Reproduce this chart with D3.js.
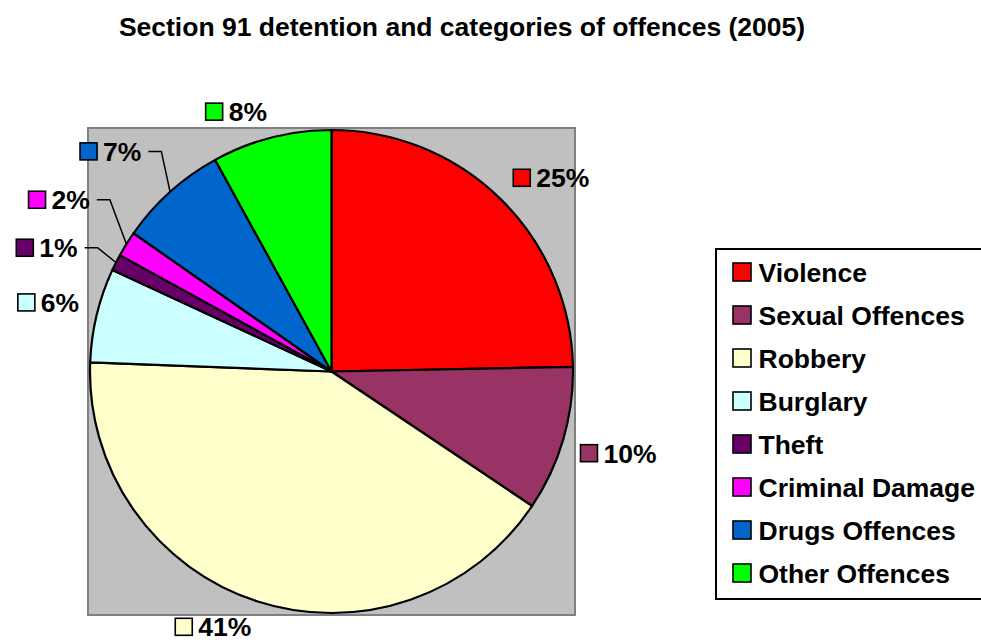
<!DOCTYPE html>
<html>
<head>
<meta charset="utf-8">
<script src="https://cdn.jsdelivr.net/npm/d3@7"></script>
<style>
  body { margin: 0; background: #fff; }
  text { font-family: "Liberation Sans", Arial, sans-serif; font-weight: bold; fill: #000; }
</style>
</head>
<body>
<div id="chart"></div>
<script>
// categories and their share of section 91 detentions (%)
var categories = ["Violence", "Sexual Offences", "Robbery", "Burglary", "Theft",
                  "Criminal Damage", "Drugs Offences", "Other Offences"];
var shares = [24.7, 9.7, 41.2, 6.3, 1.1, 1.7, 7.3, 8.0];
var colours = ["#FF0000", "#993366", "#FFFFCC", "#CCFFFF", "#660066",
               "#FF00FF", "#0066CC", "#00FF00"];
// labels that were pulled out with a leader line
var leaderLabels = ["Theft", "Criminal Damage", "Drugs Offences"];
var title = "Section 91 detention and categories of offences (2005)";

var width = 981, height = 643;
var cx = 331.5, cy = 371.5, radius = 241.5;

var svg = d3.select("#chart").append("svg")
    .attr("width", width)
    .attr("height", height);

svg.append("rect").attr("width", width).attr("height", height).attr("fill", "#fff");

// title
svg.append("text")
    .attr("x", 462)
    .attr("y", 36)
    .attr("text-anchor", "middle")
    .attr("font-size", "26.5px")
    .text(title);

// grey plot area
svg.append("rect")
    .attr("x", cx - radius - 2)
    .attr("y", cy - radius - 2)
    .attr("width", 2 * radius + 4)
    .attr("height", 2 * radius + 4)
    .attr("fill", "#C0C0C0")
    .attr("stroke", "#808080")
    .attr("stroke-width", 2);

var data = categories.map(function (c, i) {
    return { name: c, value: shares[i], colour: colours[i] };
});
var total = d3.sum(shares);

var pie = d3.pie().sort(null).value(d => d.value);
var arc = d3.arc().innerRadius(0).outerRadius(radius);
var arcs = pie(data);

var pieGroup = svg.append("g").attr("transform", `translate(${cx}, ${cy})`);

pieGroup.selectAll("path")
    .data(arcs)
    .enter()
    .append("path")
    .attr("d", arc)
    .attr("fill", d => d.data.colour)
    .attr("stroke", "#000")
    .attr("stroke-width", 2.2)
    .attr("stroke-linejoin", "round");

// data labels: small colour key + rounded percentage
var labelSize = 26.5, keySize = 17, keyGap = 6;
var labelGroup = svg.append("g");

var labels = arcs.map(function (d) {
    var g = labelGroup.append("g");
    var txt = g.append("text")
        .attr("font-size", labelSize + "px")
        .attr("x", keySize + keyGap)
        .attr("y", 0.36 * labelSize)
        .text(Math.round(d.data.value / total * 100) + "%");
    g.append("rect")
        .attr("x", 0)
        .attr("y", -keySize / 2)
        .attr("width", keySize)
        .attr("height", keySize)
        .attr("fill", d.data.colour)
        .attr("stroke", "#000")
        .attr("stroke-width", 1.6);
    var w = keySize + keyGap + txt.node().getComputedTextLength();
    var mid = (d.startAngle + d.endAngle) / 2;
    var leader = leaderLabels.indexOf(d.data.name) >= 0;
    var dist = radius + 18 + (leader ? 25 : 0);
    var ux = Math.sin(mid), uy = -Math.cos(mid);
    var x = cx + ux * dist + Math.sign(ux) * w / 2;
    var y = cy + uy * dist + Math.sign(uy) * keySize / 2;
    return { g: g, w: w, x: x, y0: y, y: y, mid: mid, leader: leader };
});

// spread the leader labels apart vertically
function spread(items, gap) {
    var groups = [];
    items.slice().sort((a, b) => a.y0 - b.y0).forEach(function (it) {
        groups.push({ items: [it], sum: it.y0 });
        while (groups.length > 1) {
            var g = groups[groups.length - 1], p = groups[groups.length - 2];
            var gTop = g.sum / g.items.length - (g.items.length - 1) * gap / 2;
            var pBot = p.sum / p.items.length + (p.items.length - 1) * gap / 2;
            if (gTop - pBot < gap) {
                p.items = p.items.concat(g.items);
                p.sum += g.sum;
                groups.pop();
            } else break;
        }
    });
    groups.forEach(function (g) {
        var top = g.sum / g.items.length - (g.items.length - 1) * gap / 2;
        g.items.forEach((it, i) => { it.y = top + i * gap; });
    });
}
spread(labels.filter(l => l.leader), 48);

labels.forEach(function (l) {
    l.g.attr("transform", `translate(${l.x - l.w / 2}, ${l.y})`);
    if (l.leader) {
        var side = Math.sign(Math.sin(l.mid));
        var sx = side < 0 ? l.x + l.w / 2 + 7 : l.x - l.w / 2 - 7;
        var ex = cx + Math.sin(l.mid) * radius, ey = cy - Math.cos(l.mid) * radius;
        svg.append("path")
            .attr("d", d3.line()([[sx, l.y], [sx - side * 13, l.y], [ex, ey]]))
            .attr("fill", "none")
            .attr("stroke", "#000")
            .attr("stroke-width", 1.5);
    }
});

// legend
var legend = svg.append("g");
legend.append("rect")
    .attr("x", 716)
    .attr("y", 249)
    .attr("width", 300)
    .attr("height", 350)
    .attr("fill", "#fff")
    .attr("stroke", "#000")
    .attr("stroke-width", 2);

var rows = legend.selectAll("g.row")
    .data(data)
    .enter()
    .append("g")
    .attr("class", "row")
    .attr("transform", (d, i) => `translate(733, ${272 + i * 43})`);

rows.append("rect")
    .attr("x", 0)
    .attr("y", -9)
    .attr("width", 18)
    .attr("height", 18)
    .attr("fill", d => d.colour)
    .attr("stroke", "#000")
    .attr("stroke-width", 1.6);

rows.append("text")
    .attr("x", 25.5)
    .attr("y", 0.36 * 26.5)
    .attr("font-size", "26.5px")
    .text(d => d.name);
</script>
</body>
</html>
